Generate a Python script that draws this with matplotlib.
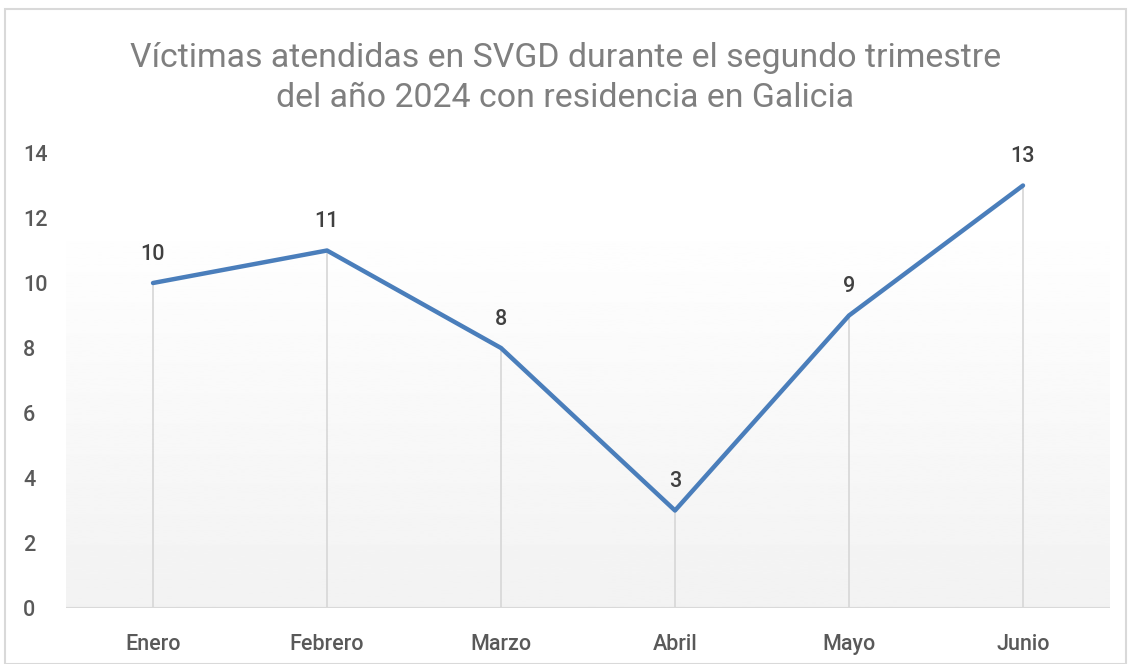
import numpy as np
import matplotlib.pyplot as plt
from matplotlib.patches import Rectangle

plt.rcParams['font.family'] = ['Roboto', 'DejaVu Sans']

meses = ['Enero', 'Febrero', 'Marzo', 'Abril', 'Mayo', 'Junio']
victimas = [10, 11, 8, 3, 9, 13]
y_ticks = [0, 2, 4, 6, 8, 10, 12, 14]
titulo = 'Víctimas atendidas en SVGD durante el segundo trimestre\ndel año 2024 con residencia en Galicia'

fig = plt.figure(figsize=(11.31, 6.64), dpi=100)
ax = fig.add_axes([66/1131, 1 - 608/664, 1044/1131, 455/664])

x = np.arange(len(meses))

# fondo degradado del área de trazado
grad = np.linspace(1.0, 0.949, 256).reshape(-1, 1)
ax.imshow(grad, cmap='gray', vmin=0, vmax=1, aspect='auto',
          extent=[-0.5, 5.5, 0, 12.2], origin='upper', zorder=0)

# líneas de caída
ax.vlines(x, 0, victimas, color='#d9d9d9', lw=1.3, zorder=1)
ax.axhline(0, color='#d9d9d9', lw=1.5, zorder=1)

ax.plot(x, victimas, color='#4a7ebb', lw=3.2, solid_capstyle='round', zorder=3)

for xi, v in zip(x, victimas):
    ax.annotate(str(v), (xi, v), xytext=(0, 13), textcoords='offset points',
                ha='center', va='bottom', fontsize=15.5, color='#404040', fontweight='medium')

ax.set_xlim(-0.5, 5.5)
ax.set_ylim(0, 14)
ax.set_xticks(x)
ax.set_xticklabels(meses, fontweight='medium')
ax.set_yticks(y_ticks)
ax.set_yticklabels([str(t) for t in y_ticks], fontweight='medium')
ax.tick_params(length=0, labelsize=15.5, labelcolor='#595959')
ax.tick_params(axis='x', pad=19)
ax.tick_params(axis='y', pad=31)
for lbl in ax.get_yticklabels():
    lbl.set_horizontalalignment('left')
for s in ax.spines.values():
    s.set_visible(False)

fig.text(0.5, 1 - 78/664, titulo, ha='center', va='center', fontsize=24.4,
         color='#7f7f7f', linespacing=1.3)

fig.patches.append(Rectangle((5/1131, 0), 1121/1131, 1 - 9/664, transform=fig.transFigure,
                             fill=False, edgecolor='#d9d9d9', lw=1.5))

fig.savefig('out.png', dpi=100)
